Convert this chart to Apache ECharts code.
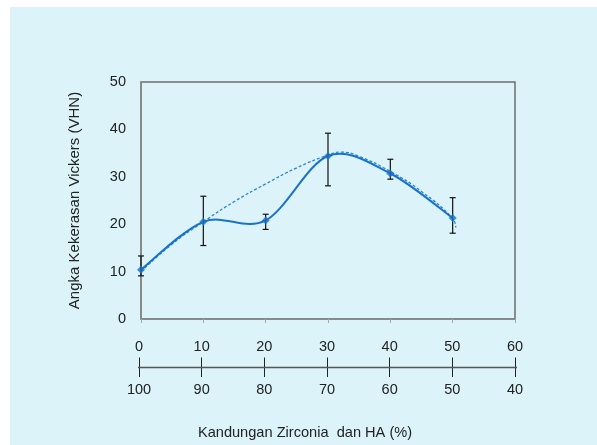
<!DOCTYPE html>
<html>
<head>
<meta charset="utf-8">
<script src="https://cdn.jsdelivr.net/npm/echarts@6/dist/echarts.min.js"></script>
<style>
html,body{margin:0;padding:0;background:#fff;}
#bg{position:absolute;left:10px;top:7px;right:0;bottom:0;background:#dcf4f9;}
#chart{position:absolute;left:0;top:0;width:597px;height:445px;}
</style>
</head>
<body>
<div id="bg"></div>
<div id="chart"></div>
<script>
var zirconia = [0, 10, 20, 30, 40, 50];
var hardness = [10.4, 20.5, 20.8, 34.4, 30.7, 21.3];
var errLow = [9.1, 15.5, 18.9, 28.1, 29.5, 18.1];
var errHigh = [13.3, 25.9, 22.1, 39.2, 33.7, 25.6];
var trendX = [0, 5, 10, 15, 20, 25, 30, 32, 35, 40, 45, 50, 50.5];
var trendY = [10.0, 15.8, 20.5, 24.8, 28.5, 31.9, 34.6, 35.2, 34.3, 31.1, 26.9, 21.2, 19.3];
var topTicks = ['0', '10', '20', '30', '40', '50', '60'];
var bottomTicks = ['100', '90', '80', '70', '60', '50', '40'];
var yTitle = 'Angka Kekerasan Vickers (VHN)';
var xTitle = 'Kandungan Zirconia  dan HA (%)';

var font = 'Liberation Sans, Arial, sans-serif';
var chart = echarts.init(document.getElementById('chart'), null, {renderer: 'canvas'});

var mainData = zirconia.map(function (x, i) { return [x, hardness[i]]; });
var trendData = trendX.map(function (x, i) { return [x, trendY[i]]; });
var errData = zirconia.map(function (x, i) { return [x, errLow[i], errHigh[i]]; });
var n = zirconia.length;

chart.setOption({
  backgroundColor: 'transparent',
  animation: false,
  textStyle: {fontFamily: font},
  title: {text: xTitle, left: 300, top: 420, textAlign: 'center',
    textStyle: {fontSize: 14.6, fontWeight: 'normal', color: '#222', fontFamily: font}},
  grid: [
    {left: 141, top: 82, width: 374, height: 237, show: true, borderColor: '#6e6e6e', borderWidth: 1.5, backgroundColor: 'transparent'},
    {left: 139, top: 367, width: 376, height: 1}
  ],
  xAxis: [
    {gridIndex: 0, type: 'value', min: 0, max: 60, interval: 10,
     axisLine: {show: true, lineStyle: {color: '#8a8a8a', width: 1.5}},
     axisTick: {show: true, length: 4, lineStyle: {color: '#aaaaaa'}},
     axisLabel: {show: false}, splitLine: {show: false}},
    {gridIndex: 1, type: 'value', position: 'top', min: 0, max: 60, interval: 10,
     axisLine: {show: false},
     axisTick: {show: true, length: 10, lineStyle: {color: '#222', width: 1}},
     axisLabel: {show: true, margin: 13, fontSize: 14.5, color: '#222', fontFamily: font,
       formatter: function (v) { return topTicks[Math.round(v / 10)]; }},
     splitLine: {show: false}},
    {gridIndex: 1, type: 'value', position: 'bottom', min: 0, max: 60, interval: 10,
     axisLine: {show: false},
     axisTick: {show: true, length: 9, lineStyle: {color: '#222', width: 1}},
     axisLabel: {show: true, margin: 14, fontSize: 14.5, color: '#222', fontFamily: font,
       formatter: function (v) { return bottomTicks[Math.round(v / 10)]; }},
     splitLine: {show: false}}
  ],
  yAxis: [
    {gridIndex: 0, type: 'value', min: 0, max: 50, interval: 10,
     axisLine: {show: true, lineStyle: {color: '#8a8a8a', width: 1.5}},
     axisTick: {show: false},
     axisLabel: {fontSize: 14.5, color: '#222', margin: 15, fontFamily: font},
     splitLine: {show: false},
     name: yTitle, nameLocation: 'middle', nameGap: 59, nameRotate: 90,
     nameTextStyle: {fontSize: 15, color: '#222', fontFamily: font}},
    {gridIndex: 1, type: 'value', min: -1, max: 1, show: false}
  ],
  series: [
    {type: 'line', xAxisIndex: 0, yAxisIndex: 0, data: trendData, smooth: 0.5,
     showSymbol: false, lineStyle: {color: '#2a84d8', width: 1.3, type: [3, 2]}, z: 2},
    {type: 'custom', xAxisIndex: 0, yAxisIndex: 0, data: mainData, z: 3,
     renderItem: function (params, api) {
       var i = params.dataIndex;
       if (i >= n - 1) return null;
       var P = function (j) {
         j = Math.max(0, Math.min(n - 1, j));
         return api.coord([zirconia[j], hardness[j]]);
       };
       var p0 = P(i - 1), p1 = P(i), p2 = P(i + 1), p3 = P(i + 2);
       return {type: 'bezierCurve', shape: {
         x1: p1[0], y1: p1[1], x2: p2[0], y2: p2[1],
         cpx1: p1[0] + (p2[0] - p0[0]) / 6, cpy1: p1[1] + (p2[1] - p0[1]) / 6,
         cpx2: p2[0] - (p3[0] - p1[0]) / 6, cpy2: p2[1] - (p3[1] - p1[1]) / 6
       }, style: {stroke: '#1a72c9', lineWidth: 2, fill: null}};
     }},
    {type: 'custom', xAxisIndex: 0, yAxisIndex: 0, data: errData, z: 4,
     renderItem: function (params, api) {
       var x = api.value(0);
       var lo = api.coord([x, api.value(1)]);
       var hi = api.coord([x, api.value(2)]);
       var w = 3;
       var st = {stroke: '#111', lineWidth: 1.2};
       return {type: 'group', children: [
         {type: 'line', shape: {x1: lo[0], y1: lo[1], x2: hi[0], y2: hi[1]}, style: st},
         {type: 'line', shape: {x1: lo[0] - w, y1: lo[1], x2: lo[0] + w, y2: lo[1]}, style: st},
         {type: 'line', shape: {x1: hi[0] - w, y1: hi[1], x2: hi[0] + w, y2: hi[1]}, style: st}
       ]};
     }},
    {type: 'scatter', xAxisIndex: 0, yAxisIndex: 0, data: mainData,
     symbol: 'diamond', symbolSize: 8, itemStyle: {color: '#1a72c9'}, z: 5},
    {type: 'line', xAxisIndex: 2, yAxisIndex: 1, data: [[-1.6, 0], [60.7, 0]], clip: false,
     showSymbol: false, lineStyle: {color: '#555', width: 1.5}, z: 1, silent: true}
  ]
});
</script>
</body>
</html>
